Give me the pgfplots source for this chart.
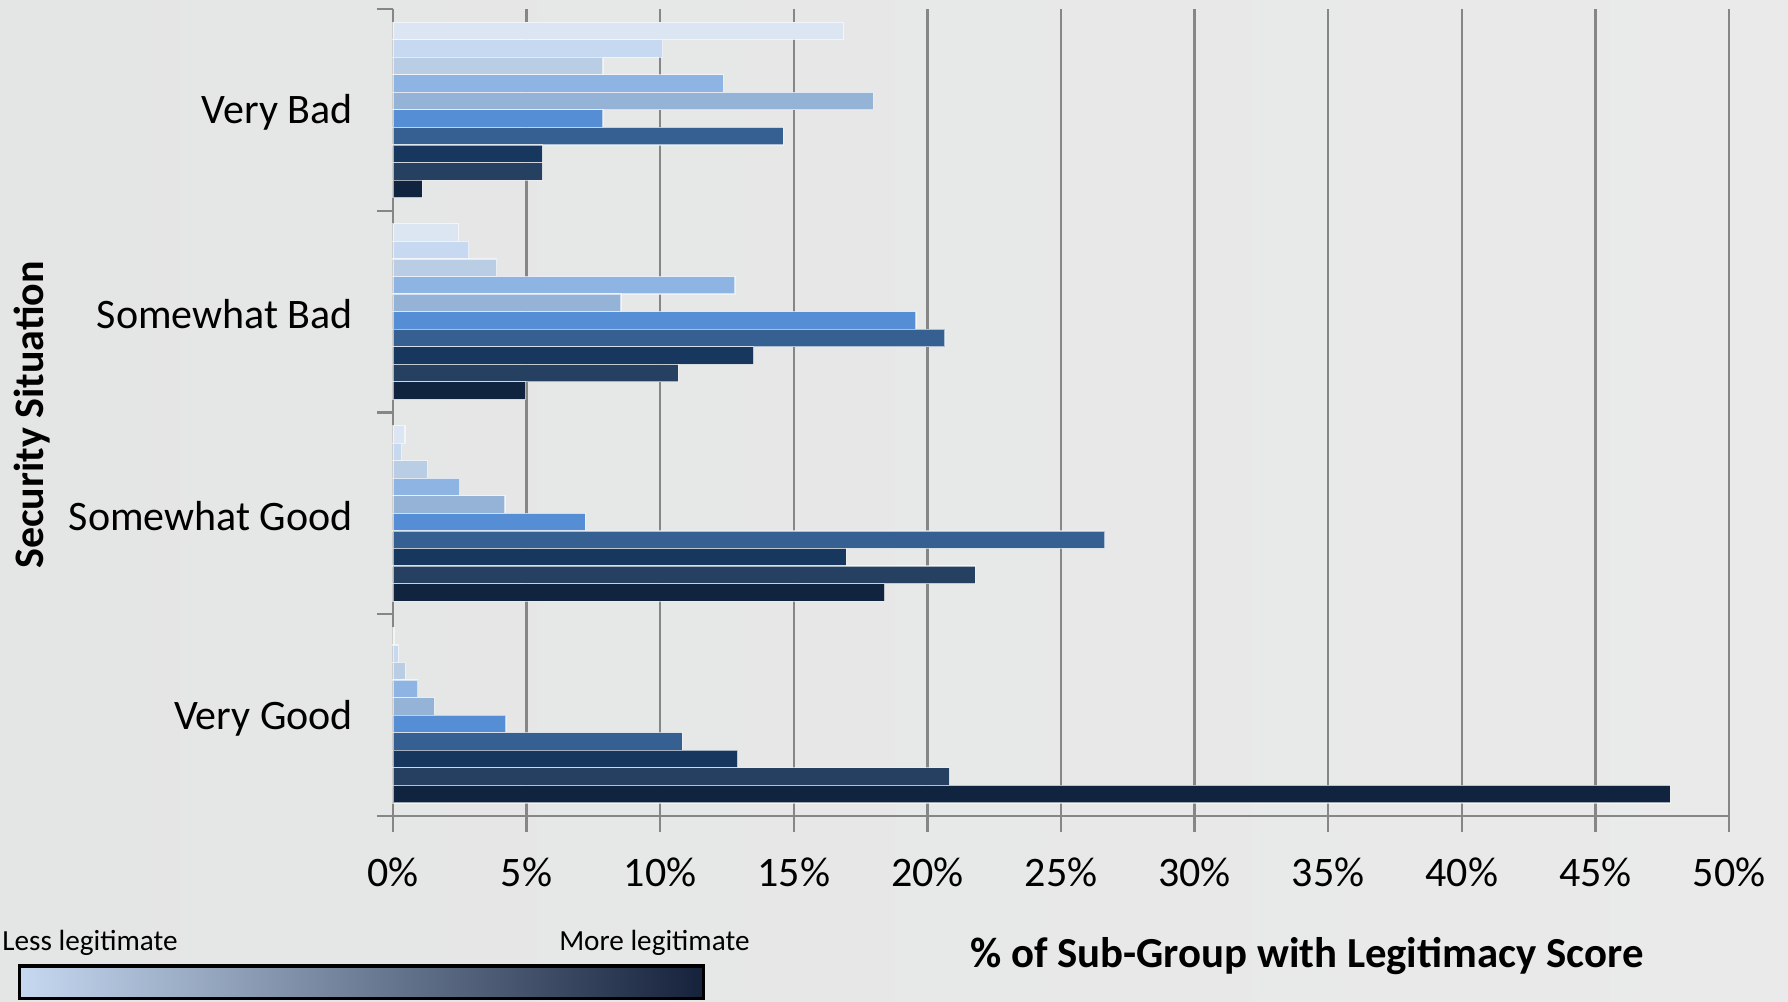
\documentclass[border=0pt]{standalone}
\usepackage{pgfplots}
\pgfplotsset{compat=1.18}
\usepackage{fontspec}
\setmainfont{Carlito}
\definecolor{c1}{HTML}{DCE6F2}
\definecolor{c2}{HTML}{C6D9F1}
\definecolor{c3}{HTML}{B9CDE5}
\definecolor{c4}{HTML}{8EB4E3}
\definecolor{c5}{HTML}{95B3D7}
\definecolor{c6}{HTML}{558ED5}
\definecolor{c7}{HTML}{376092}
\definecolor{c8}{HTML}{17375E}
\definecolor{c9}{HTML}{254061}
\definecolor{c10}{HTML}{10243F}
\definecolor{axgray}{HTML}{868686}
\definecolor{bgL}{HTML}{E4E5E5}
\definecolor{bgM}{HTML}{F1F1F1}
\definecolor{bgR}{HTML}{EAEAEA}
\definecolor{gL}{HTML}{C6D9F1}
\definecolor{gM}{HTML}{9AA8BC}
\definecolor{gR}{HTML}{16223C}
\begin{document}
\begin{tikzpicture}
\path[use as bounding box] (0,0) rectangle (447pt,250.25pt);
\shade[left color=bgL, middle color=bgM, right color=bgR] (0,0) rectangle (447pt,250.25pt);
\begin{axis}[
  at={(98.25pt,46.25pt)}, anchor=south west,
  scale only axis, width=334pt, height=201.75pt,
  xbar, bar width=0.087,
  xmin=0, xmax=50, ymin=-0.5, ymax=3.5,
  xtick={0,5,...,50},
  xticklabels={0\%,5\%,10\%,15\%,20\%,25\%,30\%,35\%,40\%,45\%,50\%},
  ytick={-0.5,0.5,1.5,2.5,3.5}, yticklabels={},
  extra y ticks={0,1,2,3},
  extra y tick labels={Very Good,Somewhat Good,Somewhat Bad,Very Bad},
  extra y tick style={tick style={draw=none}, yticklabel style={xshift=-2.5pt, yshift=-0.7pt}},
  axis lines*=left,
  axis line style={draw=axgray, line width=0.6pt, -},
  tick align=outside, major tick length=4pt,
  tick style={draw=axgray, line width=0.6pt},
  xmajorgrids, grid style={draw=axgray, line width=0.6pt},
  tick label style={font=\fontsize{10.5}{12}\selectfont, text=black},
  xticklabel style={yshift=-3pt},
  /pgf/number format/assume math mode=true,
  clip=false,
  every axis plot/.append style={draw=white, draw opacity=0.6, line width=0.3pt},
]
\addplot[fill=c1, bar shift=0.3915] coordinates {(0.06,0) (0.45,1) (2.45,2) (16.85,3)};
\addplot[fill=c2, bar shift=0.3045] coordinates {(0.2,0) (0.32,1) (2.84,2) (10.1,3)};
\addplot[fill=c3, bar shift=0.2175] coordinates {(0.46,0) (1.30,1) (3.88,2) (7.86,3)};
\addplot[fill=c4, bar shift=0.1305] coordinates {(0.93,0) (2.49,1) (12.8,2) (12.36,3)};
\addplot[fill=c5, bar shift=0.0435] coordinates {(1.55,0) (4.19,1) (8.53,2) (17.98,3)};
\addplot[fill=c6, bar shift=-0.0435] coordinates {(4.23,0) (7.19,1) (19.57,2) (7.86,3)};
\addplot[fill=c7, bar shift=-0.1305] coordinates {(10.82,0) (26.64,1) (20.66,2) (14.6,3)};
\addplot[fill=c8, bar shift=-0.2175] coordinates {(12.9,0) (16.96,1) (13.5,2) (5.59,3)};
\addplot[fill=c9, bar shift=-0.3045] coordinates {(20.82,0) (21.79,1) (10.67,2) (5.59,3)};
\addplot[fill=c10, bar shift=-0.3915] coordinates {(47.8,0) (18.4,1) (4.96,2) (1.09,3)};
\end{axis}
\node[rotate=90, font=\bfseries\fontsize{10.5}{12}\selectfont] at (8pt,146.5pt) {Security Situation};
\node[font=\bfseries\fontsize{10.7}{12}\selectfont] at (326.7pt,11.2pt) {\% of Sub-Group with Legitimacy Score};
\node[font=\fontsize{7.3}{9}\selectfont, anchor=west, inner sep=0pt] at (0.4pt,14.5pt) {Less legitimate};
\node[font=\fontsize{7.3}{9}\selectfont] at (163.6pt,14.5pt) {More legitimate};
\draw[black, line width=0.8pt, left color=gL, middle color=gM, right color=gR] (4.85pt,0.7pt) rectangle (175.9pt,8.75pt);
\end{tikzpicture}
\end{document}
